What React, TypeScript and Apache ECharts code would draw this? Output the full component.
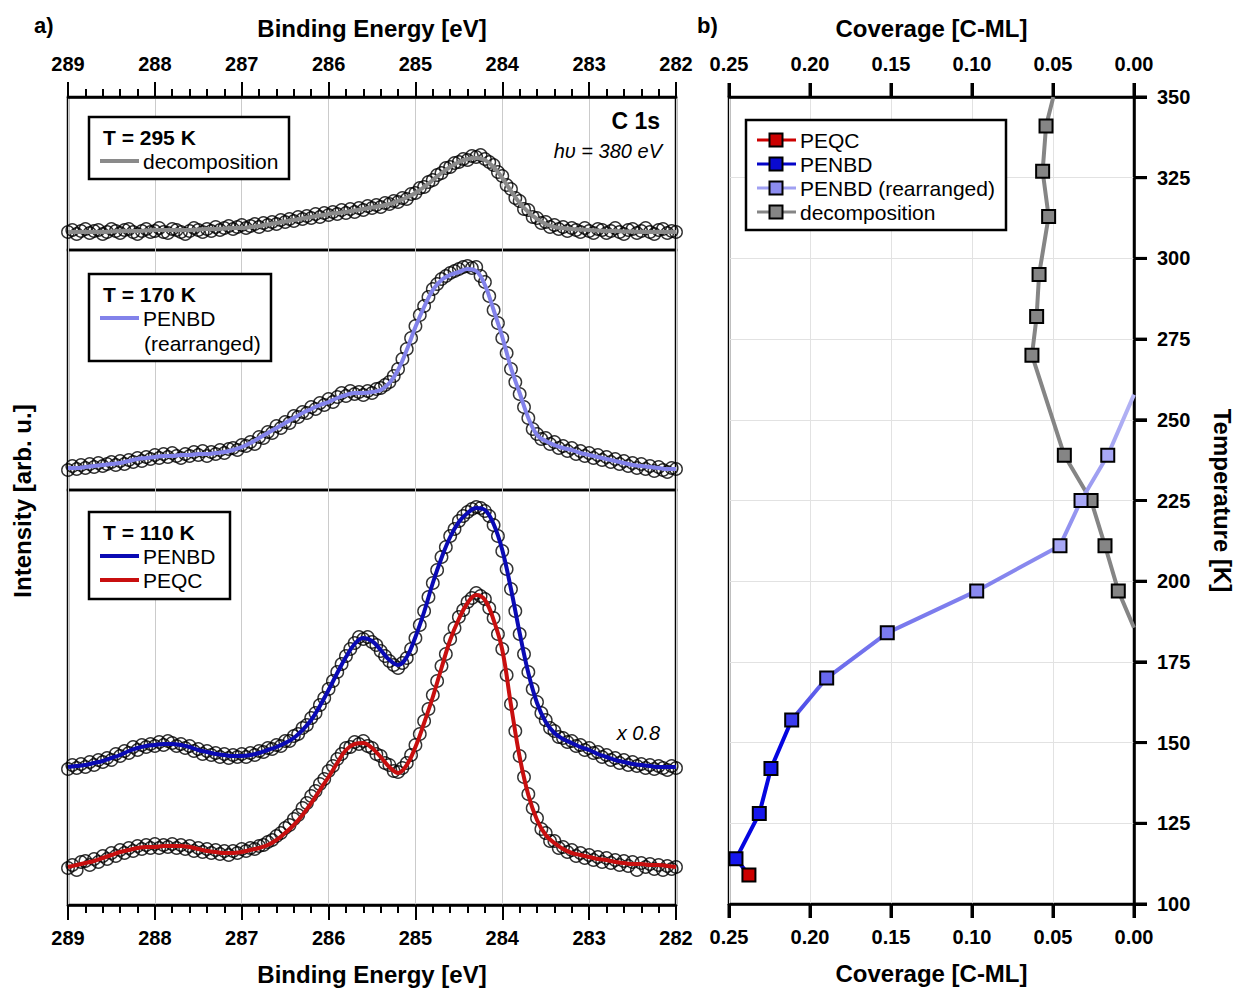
import React, { useEffect, useRef } from "react";
import * as echarts from "echarts";

// ---------- Panel a) : C 1s XPS spectra (energy grid starts at 289 eV, descending) ----------
const E_START = 289;
const STEP_POINTS = 0.05; // measured points
const STEP_FIT = 0.1; // fit curves

// T = 295 K (decomposition)
const points295 = [
  18, 20, 16, 19, 21, 17, 19, 20, 16, 18,
  21, 19, 17, 20, 21, 18, 16, 19, 21, 18,
  19, 22, 18, 17, 21, 20, 18, 16, 19, 22,
  20, 18, 21, 19, 23, 20, 22, 24, 21, 23,
  25, 22, 24, 26, 23, 27, 25, 28, 26, 30,
  28, 31, 29, 33, 31, 34, 32, 36, 33, 37,
  35, 38, 36, 40, 37, 41, 38, 42, 40, 44,
  42, 45, 43, 47, 46, 49, 48, 52, 51, 56,
  57, 62, 63, 68, 70, 75, 77, 82, 83, 87,
  88, 91, 90, 94, 93, 95, 91, 88, 85, 78,
  74, 65, 61, 52, 49, 41, 40, 33, 32, 27,
  28, 23, 25, 21, 23, 19, 22, 20, 18, 22,
  19, 17, 21, 20, 17, 19, 22, 18, 16, 20,
  21, 17, 19, 22, 18, 16, 20, 21, 17, 19,
  18,
];
const fit295 = [
  18, 18, 18, 18, 18, 18.5, 19, 19, 19, 19.5,
  20, 20, 20, 20, 20, 20.5, 21, 21, 21.5, 22,
  22, 23, 24, 25.5, 27, 28.5, 30, 31.5, 33, 34.5,
  36, 37, 38, 39.5, 41, 42.5, 44, 46, 49, 52.5,
  57, 63, 70, 77, 83, 88, 91, 92, 90, 83,
  72, 59, 47, 38, 31, 26, 23, 22, 21, 20.5,
  20, 19.5, 19, 19, 18.5, 18.5, 18, 18, 18, 18,
  18,
];

// T = 170 K (PENBD rearranged)
const points170 = [
  20, 24, 21, 25, 22, 26, 23, 27, 24, 26,
  28, 25, 29, 26, 30, 28, 32, 29, 33, 31,
  35, 32, 36, 33, 37, 34, 32, 36, 34, 38,
  35, 39, 34, 38, 36, 40, 37, 41, 42, 40,
  45, 44, 48, 46, 53, 52, 58, 57, 64, 62,
  68, 67, 74, 73, 78, 77, 83, 81, 87, 85,
  91, 88, 93, 97, 94, 99, 96, 98, 95, 99,
  97, 101, 102, 105, 108, 114, 121, 131, 141, 152,
  164, 175, 184, 193, 201, 206, 211, 214, 217, 219,
  221, 223, 224, 222, 223, 214, 208, 194, 180, 167,
  152, 137, 121, 108, 96, 83, 72, 61, 56, 51,
  52, 46, 48, 42, 44, 39, 42, 36, 39, 34,
  37, 32, 35, 30, 33, 28, 31, 26, 29, 24,
  27, 22, 26, 21, 24, 19, 23, 20, 18, 22,
  21,
];
const fit170 = [
  22, 22, 23, 24, 25, 26, 27, 29, 31, 32,
  33, 34, 34, 35, 35, 36, 36, 37, 38, 40,
  43, 47, 52, 57, 62, 67, 72, 77, 81, 85,
  88, 92, 95, 97, 97, 98, 100, 107, 120, 140,
  163, 183, 200, 210, 215, 218, 221, 219, 205, 180,
  153, 122, 97, 72, 55, 49, 45, 42, 40, 37,
  35, 33, 31, 29, 27, 25, 24, 23, 22, 21,
  21,
];

// T = 110 K, PENBD (x 0.8, upper trace)
const points110Penbd = [
  136, 140, 137, 141, 138, 143, 140, 145, 143, 147,
  145, 151, 149, 154, 152, 158, 155, 160, 158, 161,
  159, 163, 160, 164, 162, 159, 161, 157, 159, 154,
  156, 151, 154, 150, 152, 148, 151, 147, 150, 148,
  151, 148, 152, 150, 154, 153, 157, 156, 160, 159,
  164, 164, 169, 171, 177, 180, 187, 192, 200, 207,
  216, 224, 233, 241, 249, 256, 262, 268, 266, 268,
  263, 260, 254, 249, 244, 240, 237, 242, 247, 256,
  267, 280, 294, 308, 322, 335, 348, 358, 369, 376,
  384, 389, 393, 396, 398, 397, 394, 389, 380, 369,
  354, 336, 316, 294, 271, 251, 233, 216, 203, 192,
  185, 177, 174, 168, 167, 163, 164, 159, 160, 155,
  157, 152, 153, 148, 150, 145, 147, 142, 145, 140,
  143, 139, 141, 137, 140, 136, 139, 137, 135, 139,
  137,
];
const fit110Penbd = [
  138, 139, 140, 142, 144, 147, 150, 154, 157, 159,
  160, 161, 161, 160, 158, 155, 153, 151, 150, 149,
  149, 150, 152, 155, 158, 162, 167, 175, 185, 199,
  215, 232, 248, 261, 267, 264, 255, 245, 240, 248,
  268, 293, 322, 347, 368, 383, 392, 397, 395, 381,
  355, 316, 272, 232, 202, 183, 172, 166, 162, 158,
  155, 151, 148, 145, 143, 141, 140, 139, 138, 138,
  138,
];

// T = 110 K, PEQC (lower trace)
const points110Peqc = [
  37, 40, 35, 43, 44, 40, 46, 43, 49, 46,
  52, 49, 55, 52, 57, 54, 59, 56, 60, 57,
  61, 57, 60, 58, 61, 57, 60, 56, 59, 54,
  57, 53, 56, 52, 55, 51, 54, 50, 54, 52,
  56, 54, 57, 56, 59, 60, 63, 65, 69, 72,
  77, 80, 86, 90, 97, 102, 109, 114, 121, 126,
  134, 139, 146, 151, 157, 158, 163, 161, 164, 159,
  157, 151, 149, 142, 140, 134, 133, 137, 142, 150,
  160, 171, 184, 196, 210, 224, 239, 251, 266, 277,
  288, 295, 303, 307, 312, 309, 306, 297, 287, 271,
  256, 230, 201, 174, 149, 128, 111, 97, 87, 76,
  72, 64, 64, 57, 58, 53, 55, 49, 52, 47,
  50, 45, 48, 43, 47, 42, 45, 40, 44, 39,
  43, 35, 42, 38, 41, 36, 40, 35, 39, 36,
  38,
];
const fit110Peqc = [
  38, 40, 42, 44, 47, 50, 53, 55, 57, 58,
  58, 59, 59, 59, 58, 56, 54, 53, 52, 52,
  53, 55, 57, 60, 65, 72, 80, 90, 102, 115,
  128, 142, 155, 161, 162, 157, 148, 138, 132, 140,
  158, 182, 208, 237, 265, 286, 302, 310, 305, 285,
  255, 200, 148, 110, 85, 70, 62, 56, 52, 50,
  48, 46, 45, 43, 42, 41, 41, 40, 40, 39,
  38,
];

// Panel intensity ranges (arb. u.)
const panelMax = [153, 240, 415];

// ---------- Panel b) : coverage vs temperature ----------
const decompCoverage = [0.0543, 0.0564, 0.0527, 0.0586, 0.0601, 0.063, 0.043, 0.0265, 0.0179, 0.0097];
const decompTemp = [341, 327, 313, 295, 282, 270, 239, 225, 211, 197];
const decompTopEnd = [0.0498, 350];
const decompBottomEnd = [0, 185.6];

const rearrCoverage = [0.1897, 0.1523, 0.0971, 0.0457, 0.0327, 0.0162];
const rearrTemp = [170, 184, 197, 211, 225, 239];
const rearrTopEnd = [0, 257.8];

const penbdCoverage = [0.2113, 0.2241, 0.2313, 0.2457];
const penbdTemp = [157, 142, 128, 114];

const peqcCoverage = [0.2377];
const peqcTemp = [109];

const energyTicks = [289, 288, 287, 286, 285, 284, 283, 282];
const coverageTicks = ["0.25", "0.20", "0.15", "0.10", "0.05", "0.00"];
const temperatureTicks = [100, 125, 150, 175, 200, 225, 250, 275, 300, 325, 350];

// ---------- styles ----------
const FONT = '"Liberation Sans", Arial, Helvetica, sans-serif';
const C_GRAY = "#8a8a8a";
const C_LAV = "#8282ea";
const C_BLUE = "#0a0ab4";
const C_RED = "#c80f0f";
const rearrMarkerColors = ["#6868ee", "#7b7bf0", "#8a8af0", "#a8a8f6", "#a8a8f6", "#a8a8f6"];
const penbdMarkerColors = ["#3c3cf0", "#1717ee", "#1717ee", "#1717ee"];

const toPairs = (vals: number[], step: number) =>
  vals.map((v, i) => [+(E_START - i * step).toFixed(2), v]);

function buildOption() {
  const tickLabel = { fontSize: 20, fontWeight: "bold" as const, color: "#000", fontFamily: FONT };
  const titleStyle = { fontSize: 24, fontWeight: "bold" as const, color: "#000", fontFamily: FONT };
  const energyAxisBase = {
    type: "value" as const,
    min: 282,
    max: 289,
    interval: 1,
    inverse: true,
  };
  const coverageBase = { type: "value" as const, min: 0, max: 0.25, interval: 0.05, inverse: true };
  const tempBase = { type: "value" as const, min: 100, max: 350, interval: 25 };
  const gridBase = { show: true, borderColor: "#000", borderWidth: 2.5, backgroundColor: "transparent" };
  const vGrid = { show: true, lineStyle: { color: "#cbcbcb", width: 1 } };
  const majorTick = (len: number) => ({ show: true, inside: false, length: len, lineStyle: { color: "#000", width: 3 } });
  const bare = {
    axisLine: { show: false, onZero: false },
    axisTick: { show: false },
    axisLabel: { show: false },
  };

  const grids = [
    { ...gridBase, left: 68, top: 97, width: 608, height: 153 },
    { ...gridBase, left: 68, top: 250, width: 608, height: 240 },
    { ...gridBase, left: 68, top: 490, width: 608, height: 415 },
    { ...gridBase, left: 729, top: 97, width: 405, height: 808 },
    { show: false, left: 729, top: 97, width: 405, height: 808 },
  ];

  const energyOuterAxis = (gridIndex: number, position: "top" | "bottom") => ({
    ...energyAxisBase,
    gridIndex,
    position,
    axisLine: { show: true, onZero: false, lineStyle: { color: "#000", width: 2.5 } },
    axisTick: { show: true, inside: false, length: 15, lineStyle: { color: "#000", width: 2 } },
    minorTick: { show: true, splitNumber: 5, length: 8, lineStyle: { color: "#000", width: 2 } },
    axisLabel: {
      ...tickLabel,
      margin: 23,
      showMinLabel: true,
      showMaxLabel: true,
      formatter: (v: number) => String(energyTicks.find((t) => Math.abs(t - v) < 1e-6) ?? v),
    },
    splitLine: vGrid,
    name: "Binding Energy [eV]",
    nameLocation: "middle" as const,
    nameGap: 57,
    nameTextStyle: titleStyle,
  });

  const coverageAxis = (gridIndex: number, position: "top" | "bottom", split: boolean) => ({
    ...coverageBase,
    gridIndex,
    position,
    axisLine: { show: true, onZero: false, lineStyle: { color: "#000", width: 2.5 } },
    axisTick: majorTick(14),
    axisLabel: {
      ...tickLabel,
      margin: 23,
      showMinLabel: true,
      showMaxLabel: true,
      formatter: (v: number) => coverageTicks[Math.round((0.25 - v) / 0.05)] ?? v.toFixed(2),
    },
    splitLine: split ? { show: true, lineStyle: { color: "#e2e2e2", width: 1 } } : { show: false },
    name: "Coverage [C-ML]",
    nameLocation: "middle" as const,
    nameGap: 57,
    nameTextStyle: titleStyle,
  });

  const xAxis = [
    energyOuterAxis(0, "top"),
    { ...energyAxisBase, gridIndex: 1, ...bare, splitLine: vGrid },
    energyOuterAxis(2, "bottom"),
    coverageAxis(4, "top", false),
    coverageAxis(3, "bottom", true),
  ];

  const yAxis = [
    ...panelMax.map((m, i) => ({
      type: "value" as const,
      gridIndex: i,
      min: 0,
      max: m,
      show: false,
      axisLine: { onZero: false },
    })),
    {
      ...tempBase,
      gridIndex: 3,
      position: "right" as const,
      axisLine: { show: true, onZero: false, lineStyle: { color: "#000", width: 2.5 } },
      axisTick: majorTick(13),
      axisLabel: { ...tickLabel, margin: 23, showMinLabel: true, showMaxLabel: true },
      splitLine: { show: true, lineStyle: { color: "#e2e2e2", width: 1 } },
      name: "Temperature [K]",
      nameLocation: "middle" as const,
      nameRotate: -90,
      nameGap: 76,
      nameTextStyle: titleStyle,
    },
    { ...tempBase, gridIndex: 4, show: false, axisLine: { onZero: false } },
  ];

  const circles = (name: string, vals: number[], idx: number) => ({
    type: "scatter" as const,
    name,
    xAxisIndex: idx,
    yAxisIndex: idx,
    symbol: "circle",
    symbolSize: 12.5,
    itemStyle: { color: "rgba(0,0,0,0)", borderColor: "#000", borderWidth: 1.4 },
    data: toPairs(vals, STEP_POINTS),
    silent: true,
  });
  const fit = (name: string, vals: number[], idx: number, color: string) => ({
    type: "line" as const,
    name,
    xAxisIndex: idx,
    yAxisIndex: idx,
    showSymbol: false,
    smooth: 0.4,
    lineStyle: { color, width: 4 },
    data: toPairs(vals, STEP_FIT),
    silent: true,
  });

  const sq = (color: string) => ({ color, borderColor: "#000", borderWidth: 2 });
  const noSym = (p: number[]) => ({ value: p, symbol: "none", symbolSize: 0 });

  const rightBase = {
    type: "line" as const,
    xAxisIndex: 4,
    yAxisIndex: 3,
    symbol: "rect",
    symbolSize: 13,
    smooth: false,
    silent: true,
  };

  const series: any[] = [
    circles("295 K data", points295, 0),
    fit("decomposition (295 K)", fit295, 0, C_GRAY),
    circles("170 K data", points170, 1),
    fit("PENBD (rearranged) (170 K)", fit170, 1, C_LAV),
    circles("110 K PENBD data", points110Penbd, 2),
    circles("110 K PEQC data", points110Peqc, 2),
    fit("PENBD (110 K)", fit110Penbd, 2, C_BLUE),
    fit("PEQC (110 K)", fit110Peqc, 2, C_RED),
    {
      ...rightBase,
      name: "decomposition",
      lineStyle: { color: "#858585", width: 4 },
      itemStyle: sq("#858585"),
      data: [
        noSym(decompTopEnd),
        ...decompCoverage.map((c, i) => ({ value: [c, decompTemp[i]] })),
        noSym(decompBottomEnd),
      ],
    },
    {
      ...rightBase,
      name: "PENBD (rearranged)",
      lineStyle: {
        width: 4,
        color: new echarts.graphic.LinearGradient(0, 1, 0, 0, [
          { offset: 0, color: "#4646e8" },
          { offset: 0.14, color: "#6c6cec" },
          { offset: 0.45, color: "#8686ee" },
          { offset: 1, color: "#b4b4f4" },
        ]),
      },
      itemStyle: sq("#8a8af0"),
      data: [
        noSym([penbdCoverage[0], penbdTemp[0]]),
        ...rearrCoverage.map((c, i) => ({ value: [c, rearrTemp[i]], itemStyle: sq(rearrMarkerColors[i]) })),
        noSym(rearrTopEnd),
      ],
    },
    {
      ...rightBase,
      name: "PENBD",
      lineStyle: { color: "#0505e0", width: 4 },
      itemStyle: sq("#1717ee"),
      data: [
        ...penbdCoverage.map((c, i) => ({ value: [c, penbdTemp[i]], itemStyle: sq(penbdMarkerColors[i]) })),
        noSym([peqcCoverage[0], peqcTemp[0]]),
      ],
    },
    {
      ...rightBase,
      name: "PEQC",
      lineStyle: { color: "#cc0000", width: 4 },
      itemStyle: sq("#cc0000"),
      data: peqcCoverage.map((c, i) => ({ value: [c, peqcTemp[i]] })),
    },
  ];

  // ---------- graphic: legends and annotations ----------
  let gid = 0;
  const nextId = () => `g${gid++}`;
  const txt = (text: string, x: number, y: number, opts: any = {}) => ({
    id: nextId(),
    type: "text",
    x,
    y,
    rotation: opts.rotation ?? 0,
    z: 100,
    style: {
      text,
      font: opts.font ?? `21px ${FONT}`,
      fill: "#000",
      align: opts.align ?? "left",
      verticalAlign: "middle",
      textAlign: opts.align ?? "left",
      textVerticalAlign: "middle",
    },
  });
  const box = (x: number, y: number, w: number, h: number) => ({
    id: nextId(),
    type: "rect",
    z: 90,
    shape: { x, y, width: w, height: h },
    style: { fill: "#fff", stroke: "#000", lineWidth: 2.5 },
  });
  const seg = (x1: number, x2: number, y: number, color: string, w = 4) => ({
    id: nextId(),
    type: "line",
    z: 95,
    shape: { x1, y1: y, x2, y2: y },
    style: { stroke: color, lineWidth: w },
  });
  const mark = (cx: number, cy: number, color: string) => ({
    id: nextId(),
    type: "rect",
    z: 96,
    shape: { x: cx - 6.5, y: cy - 6.5, width: 13, height: 13 },
    style: { fill: color, stroke: "#000", lineWidth: 2 },
  });
  const bold = (s: number) => `bold ${s}px ${FONT}`;
  const italic = (s: number) => `italic ${s}px ${FONT}`;

  const graphic = [
    txt("a)", 34, 25, { font: bold(22) }),
    txt("b)", 697, 25, { font: bold(22) }),
    txt("Intensity [arb. u.]", 22, 501, { font: bold(24), align: "center", rotation: Math.PI / 2 }),
    txt("C 1s", 660, 121, { font: bold(23), align: "right" }),
    txt("hυ = 380 eV", 662, 151, { font: italic(20), align: "right" }),
    txt("x 0.8", 660, 733, { font: italic(20), align: "right" }),

    box(89, 117, 200, 62),
    txt("T = 295 K", 103, 137, { font: bold(21) }),
    seg(100, 139, 161, C_GRAY),
    txt("decomposition", 143, 161),

    box(89, 274, 182, 87),
    txt("T = 170 K", 103, 294, { font: bold(21) }),
    seg(100, 139, 318, C_LAV),
    txt("PENBD", 143, 318),
    txt("(rearranged)", 144, 343),

    box(89, 512, 141, 87),
    txt("T = 110 K", 103, 532, { font: bold(21) }),
    seg(100, 139, 556, C_BLUE),
    txt("PENBD", 143, 556),
    seg(100, 139, 580, C_RED),
    txt("PEQC", 143, 580),

    box(746, 120, 260, 110),
    seg(757, 796, 140, "#cc0000", 3),
    mark(776, 140, "#cc0000"),
    txt("PEQC", 800, 140),
    seg(757, 796, 164, "#0505c8", 3),
    mark(776, 164, "#0a0ad0"),
    txt("PENBD", 800, 164),
    seg(757, 796, 188, "#a0a0f2", 3),
    mark(776, 188, "#8c8cf0"),
    txt("PENBD (rearranged)", 800, 188),
    seg(757, 796, 212, "#858585", 3),
    mark(776, 212, "#858585"),
    txt("decomposition", 800, 212),
  ];

  return {
    animation: false,
    backgroundColor: "#fff",
    textStyle: { fontFamily: FONT },
    grid: grids,
    xAxis,
    yAxis,
    series,
    graphic,
  };
}

// Tick marks of panel b), placed through the library's own scales (convertToPixel on grid 3)
function panelBTicks(chart: echarts.ECharts) {
  const pt = (c: number, t: number) => chart.convertToPixel({ gridIndex: 3 }, [c, t]) as unknown as number[];
  const tick = (id: string, x1: number, y1: number, x2: number, y2: number) => ({
    id,
    type: "line",
    z: 50,
    shape: { x1, y1, x2, y2 },
    style: { stroke: "#000", lineWidth: 3 },
  });
  const out: any[] = [];
  coverageTicks.forEach((s, i) => {
    const top = pt(parseFloat(s), 350);
    const bottom = pt(parseFloat(s), 100);
    out.push(tick(`ct${i}`, top[0], top[1], top[0], top[1] - 14));
    out.push(tick(`cb${i}`, bottom[0], bottom[1], bottom[0], bottom[1] + 14));
  });
  temperatureTicks.forEach((t, i) => {
    const p = pt(0, t);
    out.push(tick(`tr${i}`, p[0], p[1], p[0] + 13, p[1]));
  });
  return out;
}

export default function App() {
  const ref = useRef<HTMLDivElement>(null);
  useEffect(() => {
    if (!ref.current) return;
    const chart = echarts.init(ref.current, null, { renderer: "svg" });
    const option = buildOption();
    chart.setOption(option as any);
    try {
      const ticks = panelBTicks(chart);
      if (ticks.every((t) => Number.isFinite(t.shape.x1) && Number.isFinite(t.shape.y1))) {
        chart.setOption({ graphic: [...option.graphic, ...ticks] } as any);
      }
    } catch (e) {
      // keep the chart as drawn
    }
    return () => chart.dispose();
  }, []);
  return (
    <div
      ref={ref}
      style={{ position: "absolute", left: 0, top: 0, width: 1237, height: 990, background: "#fff" }}
    />
  );
}
